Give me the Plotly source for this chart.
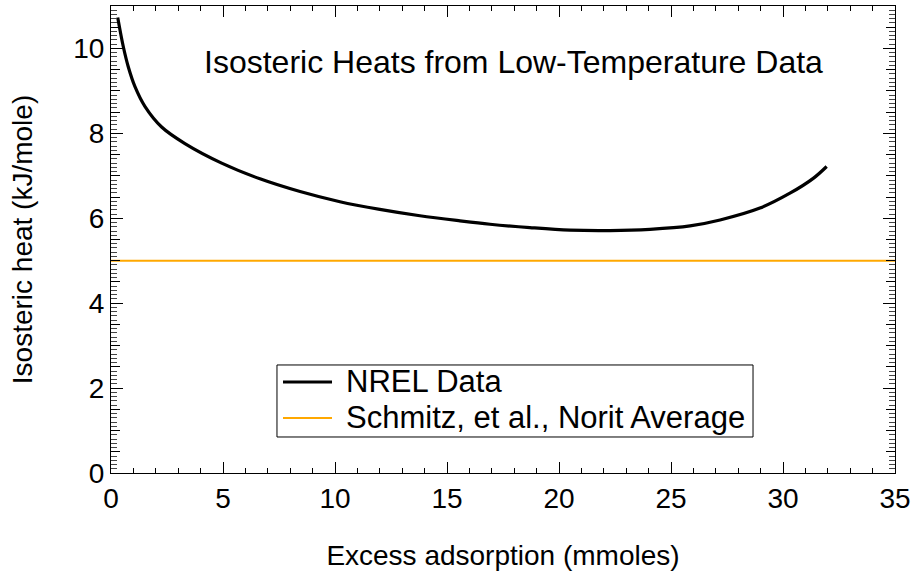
import plotly.graph_objects as go

# NREL data
nrel_x = [0.30, 0.55, 0.77, 1.07, 1.52, 2.26, 3.30, 4.94, 6.65, 8.44, 10.22, 12.0, 13.79,
          15.58, 16.92, 18.7, 20.49, 22.28, 24.06, 25.85, 27.19, 28.97, 30.31, 31.35, 31.95]
nrel_y = [10.73, 10.04, 9.57, 9.10, 8.63, 8.15, 7.76, 7.30, 6.93, 6.63, 6.39, 6.21, 6.06,
          5.94, 5.86, 5.78, 5.72, 5.71, 5.74, 5.82, 5.96, 6.24, 6.59, 6.94, 7.22]

# Schmitz et al. Norit average
schmitz_x = [0, 35]
schmitz_y = [5.0, 5.0]

series_names = ["NREL Data", "Schmitz, et al., Norit Average"]
series_colors = ["black", "#FFA800"]
series_widths = [3.2, 2]

title_text = "Isosteric Heats from Low-Temperature Data"
x_title = "Excess adsorption (mmoles)"
y_title = "Isosteric heat (kJ/mole)"

FONT = "Liberation Sans, Arial, Helvetica, sans-serif"

fig = go.Figure()
fig.add_trace(go.Scatter(x=nrel_x, y=nrel_y, mode="lines", name=series_names[0],
                         showlegend=False,
                         line=dict(color=series_colors[0], width=series_widths[0],
                                   shape="spline", smoothing=1.0)))
fig.add_trace(go.Scatter(x=schmitz_x, y=schmitz_y, mode="lines", name=series_names[1],
                         showlegend=False,
                         line=dict(color=series_colors[1], width=series_widths[1])))
# invisible trace to activate the overlay axes (for the 0.5 y ticks)
fig.add_trace(go.Scatter(x=[0], y=[0], xaxis="x2", yaxis="y2", mode="markers",
                         marker=dict(opacity=0), showlegend=False, hoverinfo="skip"))

# Legend box drawn in paper coordinates (tight line spacing as in the reference)
box = dict(x0=0.2117, x1=0.8189, y0=0.0771, y1=0.2313)
sample_x = (0.2194, 0.2819)
row_y = [0.1949, 0.1178]
text_x = 0.2972

shapes = [dict(type="rect", xref="paper", yref="paper", **box,
               line=dict(color="black", width=1), fillcolor="white", layer="above")]
annotations = [dict(text=title_text, xref="paper", yref="paper", x=0.513, y=0.880,
                    xanchor="center", yanchor="middle", showarrow=False,
                    font=dict(size=32, family=FONT))]
for name, col, w, yy in zip(series_names, series_colors, series_widths, row_y):
    shapes.append(dict(type="line", xref="paper", yref="paper",
                       x0=sample_x[0], x1=sample_x[1], y0=yy, y1=yy,
                       line=dict(color=col, width=w), layer="above"))
    annotations.append(dict(text=name, xref="paper", yref="paper", x=text_x, y=yy,
                            xanchor="left", yanchor="middle", showarrow=False,
                            font=dict(size=31, family=FONT)))

fig.update_layout(
    width=922, height=577,
    margin=dict(l=111, r=27, t=6, b=104),
    paper_bgcolor="white", plot_bgcolor="white",
    font=dict(family=FONT, color="black", size=28),
    showlegend=False,
    xaxis=dict(range=[0, 35], tickmode="linear", tick0=0, dtick=5,
               ticks="inside", ticklen=11, tickcolor="black", tickwidth=1,
               showline=True, linecolor="black", linewidth=1, mirror="ticks",
               showgrid=False, zeroline=False,
               tickfont=dict(size=28),
               minor=dict(dtick=1, ticks="inside", ticklen=5, tickcolor="black", showgrid=False),
               title=dict(text=x_title, font=dict(size=28), standoff=32)),
    yaxis=dict(range=[0, 11], tickmode="linear", tick0=0, dtick=2,
               ticks="inside", ticklen=12, tickcolor="black", tickwidth=1,
               showline=True, linecolor="black", linewidth=1, mirror="ticks",
               showgrid=False, zeroline=False,
               tickfont=dict(size=28),
               minor=dict(dtick=0.1, ticks="inside", ticklen=6, tickcolor="#444", showgrid=False),
               title=dict(text=y_title, font=dict(size=28), standoff=32)),
    xaxis2=dict(overlaying="x", range=[0, 35], showticklabels=False, ticks="",
                showgrid=False, zeroline=False, showline=False, anchor="y2"),
    yaxis2=dict(overlaying="y", range=[0, 11], tickmode="linear", tick0=0, dtick=0.5,
                ticks="inside", ticklen=9, tickcolor="black", showticklabels=False,
                showline=True, linecolor="black", mirror="ticks",
                showgrid=False, zeroline=False, anchor="x2"),
    shapes=shapes,
    annotations=annotations,
)

fig.write_html("out.html")
